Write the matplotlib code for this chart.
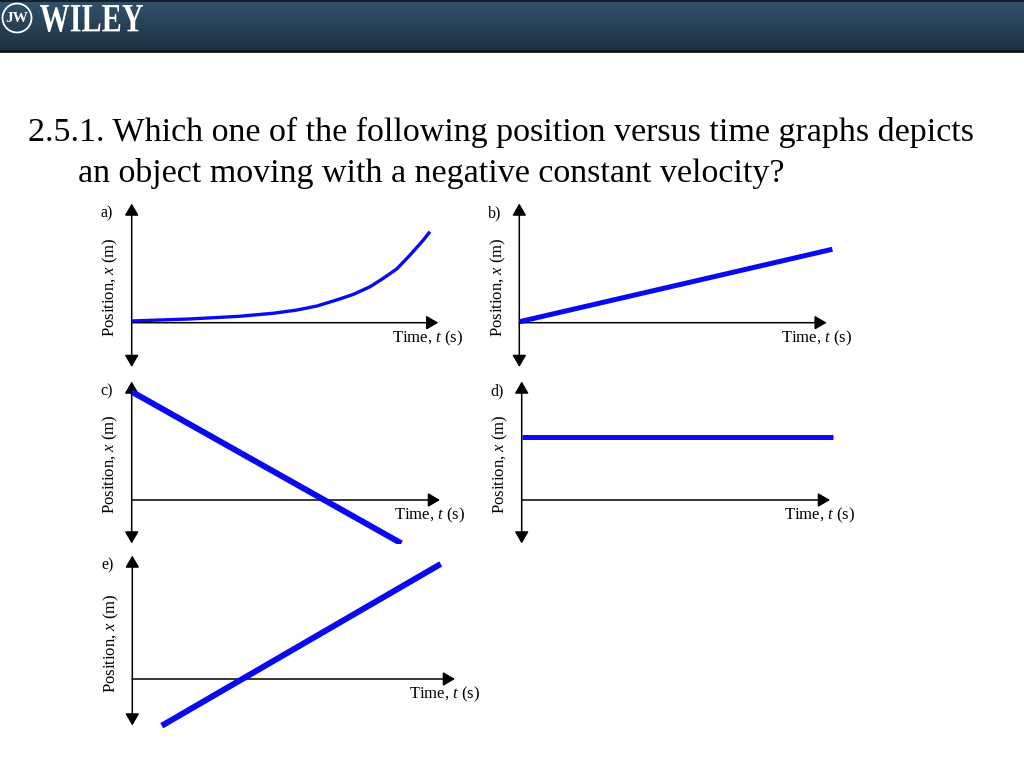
import numpy as np
import matplotlib
matplotlib.use("Agg")
import matplotlib.pyplot as plt
from matplotlib.patches import Circle, PathPatch
from matplotlib.textpath import TextPath
from matplotlib.font_manager import FontProperties
from matplotlib.transforms import Affine2D

plt.rcParams['font.family'] = ['Liberation Serif', 'DejaVu Serif']
plt.rcParams['mathtext.fontset'] = 'custom'
plt.rcParams['mathtext.rm'] = 'Liberation Serif'
plt.rcParams['mathtext.it'] = 'Liberation Serif:italic'

W, H = 1024, 768

# position versus time data for each graph (t in s-units, x in m-units)
t_a = [0.0, 1.85, 3.47, 4.57, 5.32, 5.97, 6.61, 7.15, 7.69, 8.12, 8.55, 8.98, 9.41, 9.62]
x_a = [0.11, 0.23, 0.40, 0.59, 0.79, 1.04, 1.42, 1.77, 2.25, 2.78, 3.36, 4.23, 5.17, 5.69]

t_b = [0.0, 10.1]
x_b = [0.06, 4.59]

t_c = [0.0, 8.7]
x_c = [6.77, -2.71]

t_d = [0.0, 10.03]
x_d = [3.96, 3.96]

t_e = [0.95, 9.95]
x_e = [-2.92, 7.19]

labels = ['a)', 'b)', 'c)', 'd)', 'e)']
title_1 = '2.5.1. Which one of the following position versus time graphs depicts'
title_2 = 'an object moving with a negative constant velocity?'

PX_T = 31.0   # pixels per time unit
PX_X = 16.0   # pixels per position unit

# panel frames in pixels: origin x, origin y, arrow tip x, top arrow y, bottom arrow y
panels = [
    (131.7, 322.7, 438.3, 203.5, 367.0),
    (519.3, 322.7, 826.7, 203.5, 367.0),
    (131.7, 500.0, 440.0, 381.5, 543.5),
    (521.7, 500.0, 830.0, 381.5, 543.5),
    (132.3, 679.0, 455.0, 555.5, 725.5),
]
series = [(t_a, x_a, 2.4, False), (t_b, x_b, 3.6, False), (t_c, x_c, 4.3, True),
          (t_d, x_d, 3.6, False), (t_e, x_e, 4.3, False)]


def fx(x):
    return x / W


def fy(y):
    return 1 - y / H


fig = plt.figure(figsize=(W / 100, H / 100), dpi=100)
fig.patch.set_facecolor('white')

# header bar
hdr = fig.add_axes([0, fy(51), 1, 51 / H])
grad = np.linspace(0, 1, 64).reshape(-1, 1)
top_c = np.array([0x33, 0x52, 0x6c]) / 255
bot_c = np.array([0x1d, 0x30, 0x42]) / 255
img = top_c * (1 - grad[..., None]) + bot_c * grad[..., None]
img = np.repeat(img, 2, axis=1)
hdr.imshow(img, aspect='auto', extent=[0, 1, 0, 1])
hdr.set_xlim(0, 1)
hdr.set_ylim(0, 1)
hdr.axis('off')
fig.add_artist(plt.Line2D([0, 1], [fy(51), fy(51)], color='#0b141c', lw=2))
fig.add_artist(plt.Line2D([0, 1], [fy(0.5), fy(0.5)], color='#14222e', lw=1.5))

# pixel overlay for the logo
ov = fig.add_axes([0, 0, 1, 1])
ov.set_xlim(0, W)
ov.set_ylim(H, 0)
ov.axis('off')
ov.patch.set_alpha(0)
ov.add_patch(Circle((17, 18), 14.5, fill=False, ec='white', lw=1.3))
ov.text(17, 18.5, 'JW', color='white', fontsize=11, ha='center', va='center',
        fontweight='bold')
tp = TextPath((0, 0), 'WILEY', size=40,
              prop=FontProperties(family='Liberation Serif', weight='bold'))
bb = tp.get_extents()
sx = 103 / bb.width
sy = 27 / bb.height
tr = Affine2D().translate(-bb.x0, -bb.y0).scale(sx, -sy).translate(40, 32) + ov.transData
ov.add_patch(PathPatch(tp, transform=tr, fc='white', ec='none'))

# title
fig.text(fx(28), fy(141), title_1, fontsize=24.5, ha='left', va='baseline')
fig.text(fx(78), fy(182), title_2, fontsize=24.5, ha='left', va='baseline')

arrow_kw = dict(color='black', lw=1.1, shrinkA=0, shrinkB=0, mutation_scale=12)

for (ox, oy, tip, top, bot), (t, x, lw, clip), lab in zip(panels, series, labels):
    ax = fig.add_axes([fx(ox), fy(bot), (tip - ox) / W, (bot - top) / H])
    ax.set_xlim(0, (tip - ox) / PX_T)
    ax.set_ylim(-(bot - oy) / PX_X, (oy - top) / PX_X)
    ax.axis('off')
    ax.patch.set_alpha(0)
    y_lo, y_hi = ax.get_ylim()
    x_hi = ax.get_xlim()[1]
    ax.annotate('', xy=(0, y_hi), xytext=(0, y_lo),
                arrowprops=dict(arrowstyle='<|-|>,head_length=0.6,head_width=0.35', **arrow_kw))
    ax.annotate('', xy=(x_hi, 0), xytext=(0, 0),
                arrowprops=dict(arrowstyle='-|>,head_length=0.6,head_width=0.35', **arrow_kw))
    ax.plot(t, x, color='#0a0af0', lw=lw, solid_capstyle='butt', solid_joinstyle='round',
            clip_on=clip, zorder=3)

    fig.text(fx(ox - 25), fy(top + 10), lab, fontsize=11.5, ha='center', va='center')
    fig.text(fx(tip + 25), fy(oy + 15.5), 'Time, $\\mathit{t}$ (s)', fontsize=12,
             ha='right', va='center')
    fig.text(fx(ox - 21), fy(oy - 36), 'Position, $\\mathit{x}$ (m)', fontsize=12,
             rotation=90, ha='center', va='center')

fig.savefig('out.png', dpi=100)
